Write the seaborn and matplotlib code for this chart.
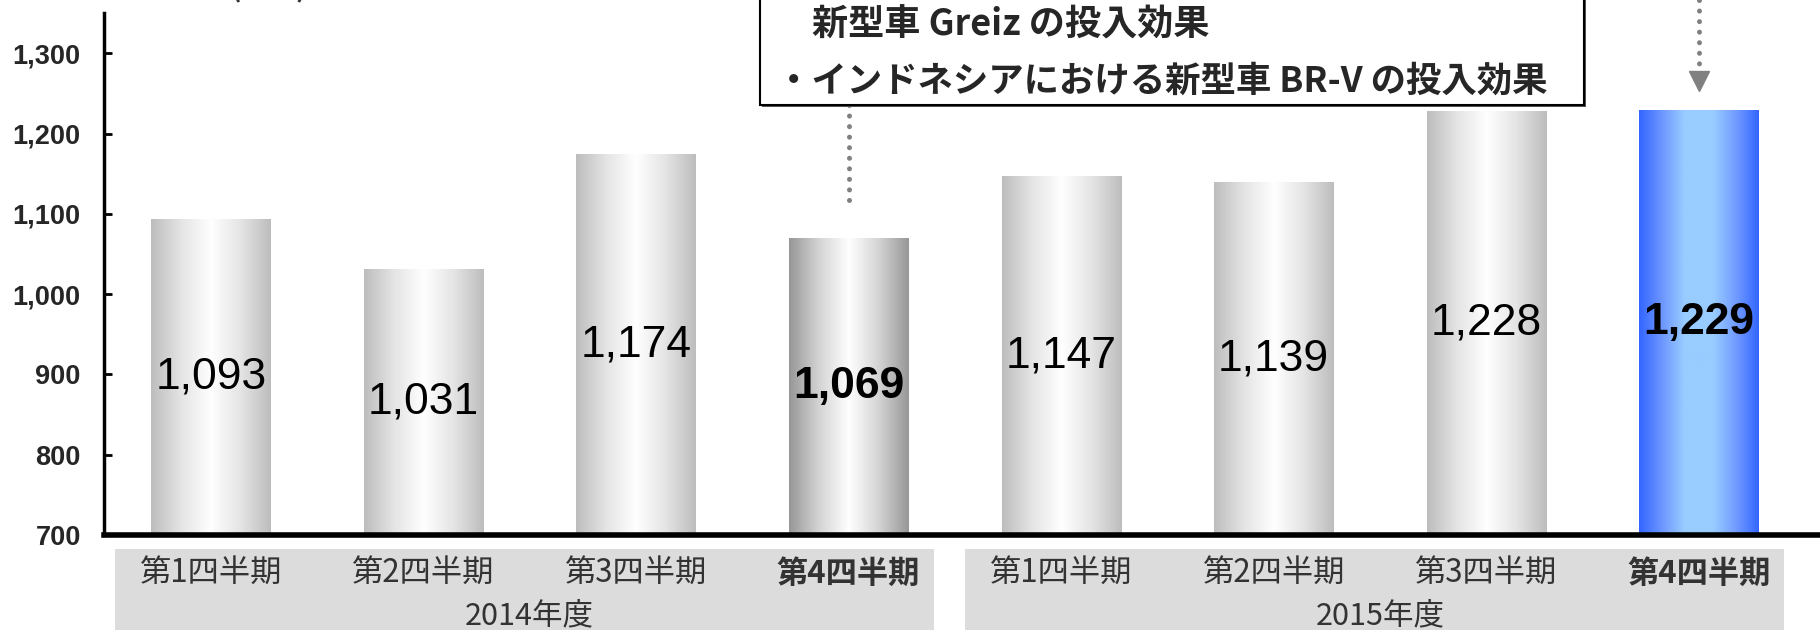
import numpy as np
import pandas as pd
import seaborn as sns
import matplotlib.pyplot as plt
from matplotlib.colors import LinearSegmentedColormap
from matplotlib.patches import Rectangle
import matplotlib.transforms as mtransforms

# --- data ---
quarters = ['第1四半期', '第2四半期', '第3四半期', '第4四半期']
years = ['2014年度', '2015年度']
sales = [1093, 1031, 1174, 1069, 1147, 1139, 1228, 1229]
note_lines = ['新型車 Greiz の投入効果', '・インドネシアにおける新型車 BR-V の投入効果']
unit_label = '(千台)'

df = pd.DataFrame({
    'year': np.repeat(years, len(quarters)),
    'quarter': quarters * len(years),
    'sales': sales,
})
df['key'] = df['year'] + df['quarter']

sns.set_theme(style='white')
plt.rcParams['font.family'] = ['Liberation Sans', 'Noto Sans CJK JP']
jp = ['Noto Sans CJK JP', 'DejaVu Sans']

fig = plt.figure(figsize=(18.2, 6.3), dpi=100)
ax = fig.add_axes([0.0574, 0.1508, 0.9426, 0.828])

sns.barplot(data=df, x='key', y='sales', width=0.56, ax=ax,
            color='white', edgecolor='none', saturation=1)

ymin, ymax = 700, 1350

# gradient fills (cylinder look)
grey = LinearSegmentedColormap.from_list('grey', ['#bdbdbd', '#e4e4e4', '#ffffff', '#e4e4e4', '#bdbdbd'])
dark = LinearSegmentedColormap.from_list('dark', ['#979797', '#d4d4d4', '#ffffff', '#d4d4d4', '#979797'])
blue = LinearSegmentedColormap.from_list(
    'blue', [(0, '#3366ff'), (0.2, '#6f99ff'), (0.38, '#99ccff'), (0.62, '#99ccff'),
             (0.82, '#6f99ff'), (1, '#3366ff')])
ramp = np.linspace(0, 1, 256)[None, :]
last_q = len(quarters) - 1
for i, p in enumerate(ax.patches):
    cmap = grey
    if i == last_q:
        cmap = dark
    elif i == len(sales) - 1:
        cmap = blue
    x0, w, h = p.get_x(), p.get_width(), p.get_height()
    ax.imshow(ramp, cmap=cmap, extent=[x0, x0 + w, ymin, h], aspect='auto',
              interpolation='bicubic', zorder=2)
    p.set_visible(False)
ax.set_xlim(-0.5, 7.57)
ax.set_ylim(ymin, ymax)

# value labels in the middle of each bar
for i, v in enumerate(sales):
    bold = (i % len(quarters)) == last_q
    ax.text(i, (ymin + v) / 2, f'{v:,}', ha='center', va='center', fontsize=32,
            fontweight='bold' if bold else 'normal', color='black', zorder=4)

# axes styling
sns.despine(ax=ax, top=True, right=True)
ax.spines['left'].set_linewidth(2.5)
ax.spines['bottom'].set_linewidth(4)
ax.spines['left'].set_color('black')
ax.spines['bottom'].set_color('black')
ax.set_xlabel('')
ax.set_ylabel('')

yticks = list(range(700, 1301, 100))
ax.set_yticks(yticks)
ax.set_yticklabels([f'{t:,}' for t in yticks], fontsize=19.5, fontweight='bold')
ax.tick_params(axis='y', direction='in', length=6, width=2, color='black', pad=17, left=True)

ax.set_xticks(range(len(sales)))
ax.set_xticklabels(quarters * len(years), fontsize=22.5, color='#333333', fontfamily=jp)
for i, lbl in enumerate(ax.get_xticklabels()):
    if i % len(quarters) == last_q:
        lbl.set_fontweight('bold')
    lbl.set_zorder(5)
ax.tick_params(axis='x', length=0, pad=16.5)

# grey category bands + year labels
trans = mtransforms.blended_transform_factory(ax.transData, ax.transAxes)
for g, yr in enumerate(years):
    start = g * len(quarters)
    ax.add_patch(Rectangle((start - 0.45, -0.2), len(quarters) - 0.15, 0.173,
                           transform=trans, facecolor='#dcdcdc', edgecolor='none',
                           clip_on=False, zorder=0))
    ax.text(start + (len(quarters) - 1) / 2, -0.155, yr, transform=trans, ha='center',
            va='center', fontsize=22, color='#333333', fontfamily=jp)

# unit label (cut off at the top, as in the source)
fig.text(0.148, 1 - 3 / 630, unit_label, ha='center', va='bottom', fontsize=20,
         fontweight='bold', color='#333333', fontfamily=jp)

# annotation box
box_bottom = 0.834
fig.add_artist(Rectangle((0.4187, box_bottom - 0.004), 0.4527, 0.3, transform=fig.transFigure,
                         facecolor='#555555', edgecolor='none', zorder=5))
fig.add_artist(Rectangle((0.4176, box_bottom), 0.4527, 0.3, transform=fig.transFigure,
                         facecolor='white', edgecolor='black', linewidth=1.5, zorder=6))
fig.text(0.446, 0.9595, note_lines[0], ha='left', va='center', fontsize=26,
         fontweight='bold', color='#262626', fontfamily=jp, zorder=7)
fig.text(0.4265, 0.8714, note_lines[1], ha='left', va='center', fontsize=25.5,
         fontweight='bold', color='#262626', fontfamily=jp, zorder=7)

# dotted leader lines
to_data = ax.transData.inverted()
box_y = to_data.transform(fig.transFigure.transform((0, box_bottom)))[1]
top_y = to_data.transform(fig.transFigure.transform((0, 1.0)))[1]
dots = dict(color='#808080', lw=3.6, linestyle=(0, (0.01, 2.1)), dash_capstyle='round',
            clip_on=False, zorder=3)
ax.plot([last_q, last_q], [box_y, 1108], **dots)
ax.plot([len(sales) - 1, len(sales) - 1], [top_y, 1272], **dots)
ax.plot([len(sales) - 1], [1266], marker='v', markersize=14, color='#808080',
        clip_on=False, zorder=3)

fig.savefig('out.png', dpi=100)
